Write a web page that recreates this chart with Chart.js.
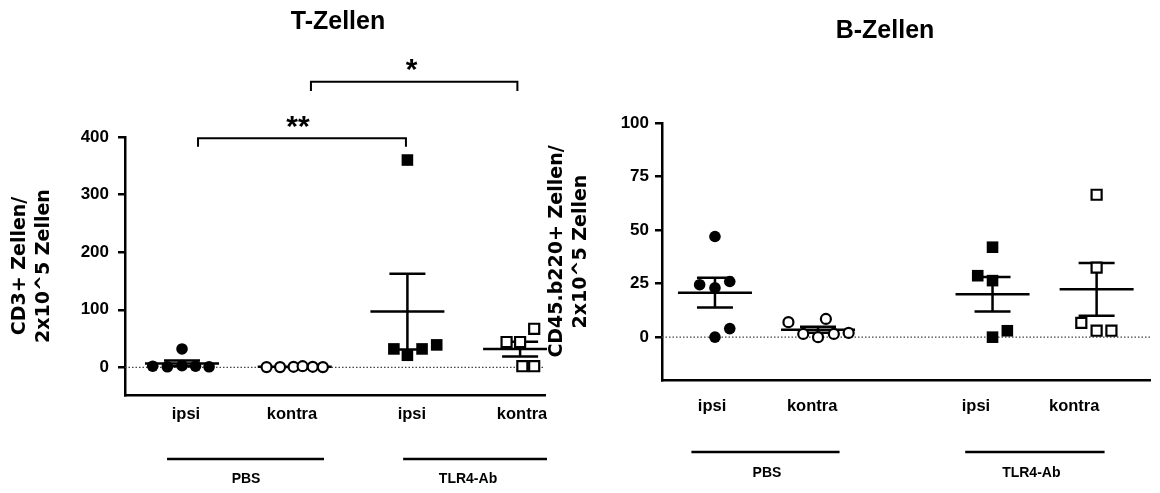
<!DOCTYPE html>
<html>
<head>
<meta charset="utf-8">
<title>T-Zellen / B-Zellen</title>
<script src="https://cdn.jsdelivr.net/npm/chart.js@4/dist/chart.umd.min.js"></script>
<style>
  html, body { margin: 0; padding: 0; background: #fff; }
  #wrapT { position: absolute; left: 0; top: 0; width: 547px; height: 493px; overflow: hidden; }
  #wrapB { position: absolute; left: 540px; top: 0; width: 620px; height: 493px; }
</style>
</head>
<body>
<div id="wrapT"><canvas id="chartT" width="620" height="493"></canvas></div>
<div id="wrapB"><canvas id="chartB" width="620" height="493"></canvas></div>
<script>
// categories
const sides = ['ipsi', 'kontra', 'ipsi', 'kontra'];
const treatments = ['PBS', 'TLR4-Ab'];

// T-Zellen (CD3+ Zellen / 2x10^5 Zellen)
const tPbsIpsi = [2, 1, 3, 2, 1, 32];
const tPbsKontra = [0.5, 0.5, 1, 2, 1, 0.5];
const tTlrIpsi = [32, 21, 32, 39, 360];
const tTlrKontra = [44, 44, 67, 2, 2];
const tTicks = [0, 100, 200, 300, 400];

// B-Zellen (CD45.b220+ Zellen / 2x10^5 Zellen)
const bPbsIpsi = [24.5, 47, 23, 26, 0, 4];
const bPbsKontra = [7, 1.5, 0, 8.5, 1.5, 2];
const bTlrIpsi = [28.7, 42, 26.4, 0, 3];
const bTlrKontra = [6.7, 66.5, 32.5, 3, 3];
const bTicks = [0, 25, 50, 75, 100];

// layout: where the groups sit on the x scale, and the scatter of the dots
const tCenters = [1, 2, 3, 4];
const tLabelAt = [1.035, 1.976, 3.04, 4.017];
const tJitter = [
  [-0.26, -0.13, 0, 0.12, 0.24, 0],
  [-0.25, -0.13, -0.01, 0.07, 0.16, 0.25],
  [-0.12, 0, 0.13, 0.26, 0],
  [-0.12, 0, 0.125, 0.02, 0.125]
];
const bCenters = [1, 2.01, 3.72, 4.74];
const bLabelAt = [0.971, 1.952, 3.558, 4.52];
const bJitter = [
  [-0.15, 0, 0, 0.145, 0, 0.145],
  [-0.29, -0.145, 0, 0.077, 0.155, 0.3],
  [-0.145, 0, 0, 0, 0.145],
  [-0.15, 0, 0, 0, 0.145]
];

const sans = "'Liberation Sans', Arial, sans-serif";

function points(vals, center, jit) {
  return vals.map((v, i) => ({x: center + jit[i], y: v}));
}

// marker looks: PBS = circles, TLR4-Ab = squares, ipsi filled, kontra open
const markers = [
  {pointStyle: 'circle', pointRadius: 5.8, backgroundColor: '#000', borderColor: '#000', borderWidth: 0},
  {pointStyle: 'circle', pointRadius: 5, backgroundColor: '#fff', borderColor: '#000', borderWidth: 2.2},
  {pointStyle: 'rect', pointRadius: 8.2, backgroundColor: '#000', borderColor: '#000', borderWidth: 0},
  {pointStyle: 'rect', pointRadius: 7.1, backgroundColor: '#fff', borderColor: '#000', borderWidth: 2.2}
];

function makeDatasets(series, centers, jitter) {
  return series.map((vals, i) => Object.assign({
    label: sides[i],
    data: points(vals, centers[i], jitter[i]),
    center: centers[i],
    pointHoverRadius: markers[i].pointRadius,
    clip: false
  }, markers[i]));
}

// mean +- SEM and the dotted zero line, drawn under the dots
const meanSem = {
  id: 'meanSem',
  beforeDatasetsDraw(chart) {
    const {ctx, chartArea, scales: {x, y}} = chart;
    ctx.save();
    ctx.strokeStyle = '#444';
    ctx.lineWidth = 1.2;
    ctx.setLineDash([1.5, 2]);
    const y0 = y.getPixelForValue(0);
    ctx.beginPath();
    ctx.moveTo(chartArea.left, y0);
    ctx.lineTo(chartArea.right, y0);
    ctx.stroke();
    ctx.setLineDash([]);
    ctx.strokeStyle = '#000';
    ctx.lineWidth = 2.5;
    chart.data.datasets.forEach(ds => {
      const vals = ds.data.map(p => p.y);
      const n = vals.length;
      const mean = vals.reduce((a, b) => a + b, 0) / n;
      const sd = Math.sqrt(vals.reduce((a, b) => a + (b - mean) * (b - mean), 0) / (n - 1));
      const sem = sd / Math.sqrt(n);
      const cx = x.getPixelForValue(ds.center);
      const ym = y.getPixelForValue(mean);
      const yt = y.getPixelForValue(mean + sem);
      const yb = y.getPixelForValue(mean - sem);
      ctx.beginPath();
      ctx.moveTo(cx - 37, ym); ctx.lineTo(cx + 37, ym);
      ctx.moveTo(cx, yt); ctx.lineTo(cx, yb);
      ctx.moveTo(cx - 18, yt); ctx.lineTo(cx + 18, yt);
      ctx.moveTo(cx - 18, yb); ctx.lineTo(cx + 18, yb);
      ctx.stroke();
    });
    ctx.restore();
  }
};

// title, treatment bars under the axis, significance brackets
function makeExtras(cfg) {
  return {
    id: 'extras',
    afterDraw(chart) {
      const {ctx, chartArea, scales: {x, y}} = chart;
      ctx.save();
      ctx.fillStyle = '#000';
      ctx.strokeStyle = '#000';
      ctx.textAlign = 'center';
      ctx.textBaseline = 'middle';
      ctx.font = "bold 25px " + sans;
      ctx.fillText(cfg.title, cfg.titleX, cfg.titleY);

      ctx.lineWidth = 2.5;
      ctx.font = "bold 14px " + sans;
      cfg.groups.forEach((g, i) => {
        const ly = chartArea.bottom + cfg.lineOff;
        ctx.beginPath();
        ctx.moveTo(x.getPixelForValue(g.from), ly);
        ctx.lineTo(x.getPixelForValue(g.to), ly);
        ctx.stroke();
        ctx.fillText(treatments[i], x.getPixelForValue(g.at), chartArea.bottom + cfg.textOff);
      });

      ctx.lineWidth = 2;
      (cfg.brackets || []).forEach(b => {
        const x1 = x.getPixelForValue(b.from), x2 = x.getPixelForValue(b.to);
        const yt = y.getPixelForValue(b.top), yh = y.getPixelForValue(b.hook);
        ctx.beginPath();
        ctx.moveTo(x1, yh); ctx.lineTo(x1, yt); ctx.lineTo(x2, yt); ctx.lineTo(x2, yh);
        ctx.stroke();
        ctx.font = "bold 30px " + sans;
        ctx.textBaseline = 'alphabetic';
        ctx.fillText(b.text, x.getPixelForValue(b.at), y.getPixelForValue(b.textY) + 17);
        ctx.textBaseline = 'middle';
      });
      ctx.restore();
    }
  };
}

function makeChart(id, o) {
  return new Chart(document.getElementById(id).getContext('2d'), {
    type: 'scatter',
    data: {datasets: makeDatasets(o.series, o.centers, o.jitter)},
    options: {
      responsive: false,
      animation: false,
      events: [],
      layout: {padding: {top: o.top, right: o.padRight, bottom: 0, left: 0}},
      plugins: {legend: {display: false}, tooltip: {enabled: false}},
      scales: {
        x: {
          type: 'linear',
          min: o.xMin,
          max: o.xMax,
          afterBuildTicks: axis => { axis.ticks = o.labelAt.map(v => ({value: v})); },
          afterFit: axis => { axis.height = o.xHeight; },
          grid: {display: false, drawTicks: false},
          border: {display: true, color: '#000', width: 2.5},
          ticks: {
            autoSkip: false,
            maxRotation: 0,
            padding: o.xPad,
            color: '#000',
            font: {family: sans, weight: 'bold', size: 16.5},
            callback: (v, i) => sides[i]
          }
        },
        y: {
          min: o.yMin,
          max: o.yMax,
          afterBuildTicks: axis => { axis.ticks = o.ticks.map(v => ({value: v})); },
          afterFit: axis => { axis.width = o.yWidth; },
          grid: {display: true, drawOnChartArea: false, drawTicks: true, tickLength: 7, color: '#000', lineWidth: 2.5},
          border: {display: true, color: '#000', width: 2.5},
          ticks: {
            padding: o.yPad,
            color: '#000',
            font: {family: sans, weight: 'bold', size: 17}
          },
          title: {
            display: true,
            text: o.yTitle,
            color: '#000',
            font: {family: "'DejaVu Sans', sans-serif", weight: 'bold', size: 19, lineHeight: 24 / 19},
            padding: {top: o.yTitlePad, bottom: 0}
          }
        }
      }
    },
    plugins: [meanSem, makeExtras(o.extras)]
  });
}

makeChart('chartT', {
  series: [tPbsIpsi, tPbsKontra, tTlrIpsi, tTlrKontra],
  centers: tCenters, jitter: tJitter, labelAt: tLabelAt, ticks: tTicks,
  xMin: 0.494, xMax: 4.221, yMin: -48, yMax: 400,
  top: 137, padRight: 75, xHeight: 98, yWidth: 125, xPad: 10, yPad: 9, yTitlePad: 8,
  yTitle: ['CD3+ Zellen/', '2x10^5 Zellen'],
  extras: {
    title: 'T-Zellen', titleX: 338, titleY: 22,
    lineOff: 64, textOff: 84,
    groups: [{from: 0.867, to: 2.26, at: 1.568}, {from: 2.962, to: 4.45, at: 3.538}],
    brackets: [
      {from: 1.142, to: 2.987, top: 398, hook: 383, text: '**', at: 2.029, textY: 431},
      {from: 2.144, to: 3.976, top: 496, hook: 480, text: '*', at: 3.038, textY: 531}
    ]
  }
});

makeChart('chartB', {
  series: [bPbsIpsi, bPbsKontra, bTlrIpsi, bTlrKontra],
  centers: bCenters, jitter: bJitter, labelAt: bLabelAt, ticks: bTicks,
  xMin: 0.481, xMax: 5.27, yMin: -20, yMax: 100,
  top: 123, padRight: 0, xHeight: 113, yWidth: 122, xPad: 17, yPad: 6, yTitlePad: 5,
  yTitle: ['CD45.b220+ Zellen/', '2x10^5 Zellen'],
  extras: {
    title: 'B-Zellen', titleX: 345, titleY: 31,
    lineOff: 72, textOff: 93,
    groups: [{from: 0.769, to: 2.221, at: 1.51}, {from: 3.452, to: 4.818, at: 4.1}]
  }
});
</script>
</body>
</html>
